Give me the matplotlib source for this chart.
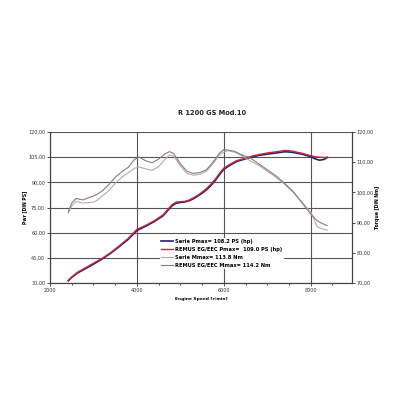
import matplotlib.pyplot as plt
from matplotlib.ticker import MultipleLocator, FuncFormatter

# Daten
rpm_p = [2420, 2500, 2620, 2800, 3000, 3200, 3400, 3600, 3800, 4000, 4200, 4400,
         4600, 4800, 4900, 5000, 5100, 5200, 5300, 5400, 5500, 5600, 5700, 5800,
         5900, 6000, 6150, 6300, 6450, 6600, 6800, 7000, 7200, 7400, 7500, 7600,
         7800, 8000, 8100, 8200, 8300, 8380]
serie_p = [31.3, 33.3, 35.8, 38.3, 41.2, 44.3, 47.8, 51.8, 56.0, 61.3, 63.8, 66.6,
           70.0, 75.8, 77.5, 78.0, 78.3, 79.0, 80.2, 81.8, 83.5, 85.5, 88.0, 91.0,
           94.5, 97.8, 100.3, 102.5, 103.6, 104.8, 106.0, 106.8, 107.5, 108.2, 108.1, 107.8,
           106.8, 105.3, 104.0, 103.2, 103.6, 104.8]
remus_p = [31.5, 33.6, 36.2, 38.8, 41.8, 44.7, 48.2, 52.3, 56.6, 62.0, 64.3, 67.1,
           70.6, 76.5, 78.2, 78.5, 78.6, 79.4, 80.8, 82.3, 84.2, 86.3, 88.8, 91.8,
           95.3, 98.5, 100.9, 103.0, 104.0, 105.3, 106.5, 107.5, 108.2, 109.0, 108.9, 108.5,
           107.3, 105.9, 105.3, 105.0, 104.8, 105.0]

rpm_m = [2420, 2500, 2600, 2750, 2900, 3000, 3100, 3200, 3350, 3500, 3650, 3800,
         3950, 4050, 4200, 4350, 4500, 4650, 4750, 4850, 5000, 5150, 5300, 5450,
         5600, 5750, 5900, 6000, 6100, 6250, 6400, 6600, 6800, 7000, 7200, 7400,
         7600, 7800, 8000, 8150, 8250, 8380]
serie_m = [93.2, 95.5, 97.0, 96.5, 96.6, 96.8, 97.5, 98.8, 100.5, 103.0, 105.0, 106.5,
           108.0, 108.4, 107.8, 107.3, 108.5, 111.0, 112.4, 112.0, 108.8, 106.3, 105.7, 106.0,
           107.0, 109.5, 112.5, 113.4, 113.8, 113.3, 112.3, 110.5, 109.0, 107.0, 105.0, 102.7,
           100.0, 96.8, 93.5, 88.6, 88.0, 87.5]
remus_m = [93.5, 96.5, 98.0, 97.5, 98.3, 98.8, 99.5, 100.5, 102.5, 105.0, 106.8, 108.3,
           111.0, 111.7, 110.5, 109.8, 111.0, 112.8, 113.5, 112.8, 109.5, 107.0, 106.3, 106.6,
           107.5, 110.0, 113.0, 114.2, 114.0, 113.6, 112.5, 111.5, 109.5, 107.5, 105.5, 103.0,
           100.2, 96.5, 92.8, 90.6, 89.8, 89.0]

labels = ['Serie Pmax= 108.2 PS (hp)', 'REMUS EG/EEC Pmax=  109.0 PS (hp)',
          'Serie Mmax= 113.8 Nm', 'REMUS EG/EEC Mmax= 114.2 Nm']

fig = plt.figure(figsize=(4, 4), dpi=100)
ax = fig.add_axes([0.125, 0.2925, 0.755, 0.3775])
ax2 = ax.twinx()

ax.plot(rpm_p, serie_p, color='#1c2470', lw=1.2, label=labels[0])
ax.plot(rpm_p, remus_p, color='#c8283a', lw=1.0, label=labels[1])
ax2.plot(rpm_m, serie_m, color='#b8a8ac', lw=0.8, label=labels[2])
ax2.plot(rpm_m, remus_m, color='#8a7c80', lw=0.8, label=labels[3])

ax.set_xlim(2000, 8950)
ax.set_ylim(30, 120)
ax2.set_ylim(70, 120)
ax.xaxis.set_major_locator(MultipleLocator(2000))
ax.xaxis.set_minor_locator(MultipleLocator(500))
ax.yaxis.set_major_locator(MultipleLocator(15))
ax2.yaxis.set_major_locator(MultipleLocator(10))

fmt = FuncFormatter(lambda v, p: f'{v:.2f}'.replace('.', ','))
ax.yaxis.set_major_formatter(fmt)
ax2.yaxis.set_major_formatter(fmt)

ax.grid(True, color='#555555', lw=0.8)
ax.set_axisbelow(True)
for a in (ax, ax2):
    a.spines['top'].set_visible(False)
    for s in ('left', 'right', 'bottom'):
        a.spines[s].set_color('#444444')
        a.spines[s].set_linewidth(0.8)
    a.tick_params(labelsize=3.5, colors='#333333', length=2, width=0.6, pad=1.5)
ax.tick_params(which='minor', length=1.5, width=0.5)

ax.set_xlabel('Engine Speed [r/min]', fontsize=3.2, fontweight='bold', labelpad=3)
ax.set_ylabel('Pwr [DIN PS]', fontsize=3.3, fontweight='bold', labelpad=0.5)
ax2.set_ylabel('Torque [DIN Nm]', fontsize=3.3, fontweight='bold', labelpad=0.5)

fig.text(0.53, 0.717, 'R 1200 GS Mod.10', ha='center', va='center',
         fontsize=4.8, fontweight='bold', color='#222222')

h1, l1 = ax.get_legend_handles_labels()
h2, l2 = ax2.get_legend_handles_labels()
leg = ax2.legend(h1 + h2, l1 + l2, loc='lower left', bbox_to_anchor=(0.355, 0.075),
                 frameon=True, handlelength=2.2, handletextpad=0.5,
                 labelspacing=0.55, borderpad=0.3, prop={'weight': 'bold', 'size': 3.7})
leg.get_frame().set_edgecolor('none')
leg.get_frame().set_facecolor('white')
leg.get_frame().set_alpha(1)

fig.savefig('out.png', dpi=100, facecolor='white')
